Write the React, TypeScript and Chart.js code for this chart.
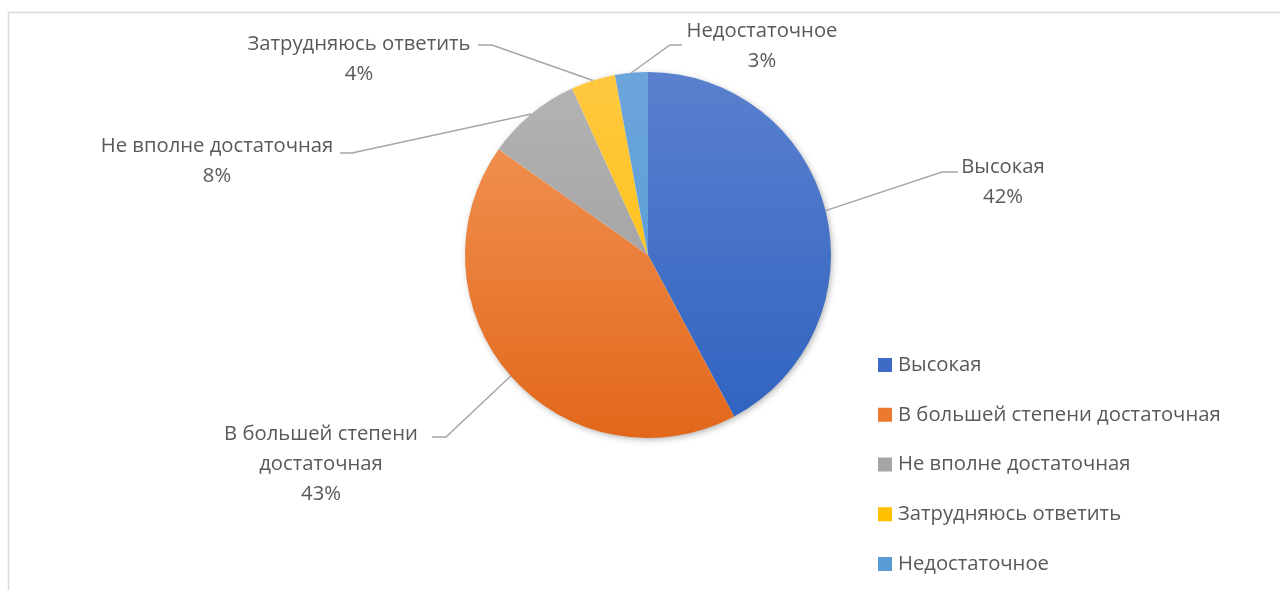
import React, { useEffect, useRef } from 'react';
import { Chart, registerables } from 'chart.js';
Chart.register(...registerables);

const categories = [
  'Высокая',
  'В большей степени достаточная',
  'Не вполне достаточная',
  'Затрудняюсь ответить',
  'Недостаточное',
];
const values = [42.2, 42.6, 8.4, 3.9, 2.9];
const labelLines = [
  ['Высокая'],
  ['В большей степени', 'достаточная'],
  ['Не вполне достаточная'],
  ['Затрудняюсь ответить'],
  ['Недостаточное'],
];
const colorsTop = ['#5A80CE', '#F3985C', '#B4B4B4', '#FFC840', '#6BA5DB'];
const colorsBottom = ['#2E62C0', '#E2671A', '#979797', '#FFBF00', '#5298D6'];
const legendColors = ['#3E6BC6', '#EC7A2E', '#A5A5A5', '#FFC000', '#5B9BD5'];

// label layout (block centre x, first line centre y, leader elbow then end)
const labelLayout = [
  { cx: 1003, y: 167, path: [[942, 172], [958, 172]] },
  { cx: 321, y: 434, path: [[446, 437], [432, 437]] },
  { cx: 217, y: 146, path: [[352, 153], [340, 153]] },
  { cx: 359, y: 44, path: [[492, 45], [478, 45]] },
  { cx: 762, y: 31, path: [[670, 45], [682, 45]] },
];
const LINE_H = 30;
const TEXT_COLOR = '#595959';
const FONT_FAMILY = '"Open Sans", "DejaVu Sans", sans-serif';

function fitFontSize(ctx: CanvasRenderingContext2D) {
  ctx.save();
  ctx.font = `100px ${FONT_FAMILY}`;
  const w = ctx.measureText('Недостаточное').width;
  ctx.restore();
  return (100 * 151) / w;
}

const decorPlugin = {
  id: 'decor',
  beforeDraw(chart: any) {
    const ctx = chart.ctx as CanvasRenderingContext2D;
    ctx.save();
    ctx.fillStyle = '#ffffff';
    ctx.fillRect(0, 0, chart.width, chart.height);
    ctx.strokeStyle = '#D9D9D9';
    ctx.lineWidth = 1.5;
    ctx.beginPath();
    ctx.moveTo(8.5, chart.height + 5);
    ctx.lineTo(8.5, 12.5);
    ctx.lineTo(chart.width + 5, 12.5);
    ctx.stroke();
    ctx.restore();
  },
  beforeDatasetsDraw(chart: any) {
    const ctx = chart.ctx as CanvasRenderingContext2D;
    const arc = chart.getDatasetMeta(0).data[0];
    if (!arc) return;
    const { x, y, outerRadius } = arc.getProps(['x', 'y', 'outerRadius'], true);
    ctx.save();
    ctx.shadowColor = 'rgba(0,0,0,0.35)';
    ctx.shadowBlur = 7;
    ctx.shadowOffsetX = 1.5;
    ctx.shadowOffsetY = 2;
    ctx.fillStyle = '#ffffff';
    ctx.beginPath();
    ctx.arc(x, y, outerRadius - 1, 0, Math.PI * 2);
    ctx.fill();
    ctx.restore();
  },
  afterDraw(chart: any) {
    const ctx = chart.ctx as CanvasRenderingContext2D;
    const meta = chart.getDatasetMeta(0);
    const total = values.reduce((a, b) => a + b, 0);
    const fs = fitFontSize(ctx);
    ctx.save();
    ctx.font = `${fs}px ${FONT_FAMILY}`;
    // leader lines + labels
    meta.data.forEach((el: any, i: number) => {
      const p = el.getProps(['x', 'y', 'startAngle', 'endAngle', 'outerRadius'], true);
      const mid = (p.startAngle + p.endAngle) / 2;
      const sx = p.x + Math.cos(mid) * p.outerRadius;
      const sy = p.y + Math.sin(mid) * p.outerRadius;
      const lay = labelLayout[i];
      ctx.strokeStyle = '#A6A6A6';
      ctx.lineWidth = 1.5;
      ctx.beginPath();
      ctx.moveTo(sx, sy);
      lay.path.forEach(([px, py]) => ctx.lineTo(px, py));
      ctx.stroke();
      const lines = [...labelLines[i], Math.round((values[i] / total) * 100) + '%'];
      ctx.fillStyle = TEXT_COLOR;
      ctx.textAlign = 'center';
      ctx.textBaseline = 'middle';
      lines.forEach((t, k) => ctx.fillText(t, lay.cx, lay.y + k * LINE_H));
    });
    // legend
    const lx = 878;
    const ly = 365;
    const step = 49.75;
    categories.forEach((c, i) => {
      const yy = ly + i * step;
      ctx.fillStyle = legendColors[i];
      ctx.fillRect(lx, yy - 7, 14, 14);
      ctx.fillStyle = TEXT_COLOR;
      ctx.textAlign = 'left';
      ctx.textBaseline = 'middle';
      ctx.fillText(c, lx + 20, yy);
    });
    ctx.restore();
  },
};

export default function App() {
  const ref = useRef<HTMLCanvasElement | null>(null);
  useEffect(() => {
    document.body.style.margin = '0';
    const canvas = ref.current!;
    const chart = new Chart(canvas, {
      type: 'pie',
      data: {
        labels: categories,
        datasets: [
          {
            data: values,
            borderWidth: 0,
            backgroundColor: (c: any) => {
              const area = c.chart.chartArea;
              if (!area) return colorsBottom[c.dataIndex];
              const g = c.chart.ctx.createLinearGradient(0, area.top, 0, area.bottom);
              g.addColorStop(0, colorsTop[c.dataIndex]);
              g.addColorStop(1, colorsBottom[c.dataIndex]);
              return g;
            },
          },
        ],
      },
      options: {
        responsive: false,
        animation: false,
        devicePixelRatio: 1,
        layout: { padding: { left: 465, right: 449, top: 72, bottom: 152 } },
        plugins: { legend: { display: false }, tooltip: { enabled: false } },
      },
      plugins: [decorPlugin],
    });
    return () => chart.destroy();
  }, []);
  return (
    <div style={{ width: 1280, height: 590 }}>
      <canvas ref={ref} width={1280} height={590} style={{ display: 'block' }} />
    </div>
  );
}
